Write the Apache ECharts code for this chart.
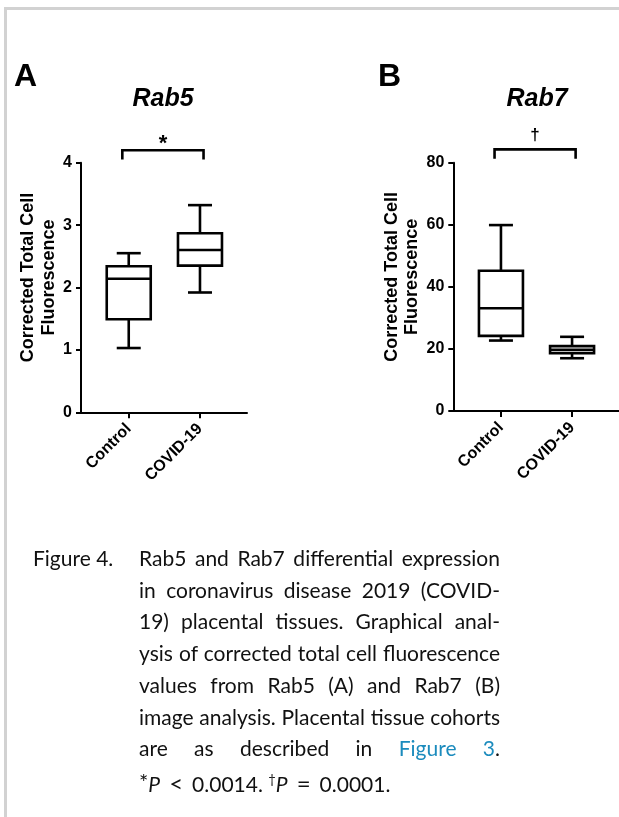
<!DOCTYPE html>
<html>
<head>
<meta charset="utf-8">
<script src="https://cdn.jsdelivr.net/npm/echarts@6/dist/echarts.min.js"></script>
<style>
html,body{margin:0;padding:0;background:#fff;width:619px;height:817px;overflow:hidden;}
#frame{position:absolute;left:4px;top:7px;width:615px;height:810px;border-top:3px solid #d2d2d2;border-left:3px solid #d2d2d2;box-sizing:border-box;}
#chart{position:absolute;left:0;top:0;width:619px;height:520px;}
#caption{position:absolute;left:0;top:0;width:619px;height:817px;font-family:'Lato',sans-serif;font-size:21px;color:#111;}
.lbl{position:absolute;left:33px;line-height:31.7px;}
.ln{position:absolute;left:139px;width:361px;line-height:31.7px;text-align:justify;text-align-last:justify;}
.last{text-align:left;text-align-last:left;}
.link{color:#1b8bbd;}
.op{display:inline-block;margin:0 9px;font-size:24px;line-height:20px;}
</style>
</head>
<body>
<div id="frame"></div>
<div id="chart"></div>
<div id="caption"></div>
<script>
// ---- data ----
const categories = ['Control', 'COVID-19'];
// [min, Q1, median, Q3, max]
const rab5Control = [1.03, 1.49, 2.14, 2.34, 2.55];
const rab5Covid   = [1.92, 2.35, 2.60, 2.87, 3.32];
const rab7Control = [22.7, 24.2, 33.1, 45.2, 59.9];
const rab7Covid   = [17.0, 18.6, 19.7, 20.9, 23.9];
const rab5YTicks = [0, 1, 2, 3, 4];
const rab7YTicks = [0, 20, 40, 60, 80];
const panelTitles = ['Rab5', 'Rab7'];
const panelLetters = ['A', 'B'];
const sigMarks = ['*', '\u2020'];
const yAxisTitle = 'Corrected Total Cell\nFluorescence';
// bracket: [leg bottom value, bracket top value] per panel
const rab5Bracket = [4.05, 4.2];
const rab7Bracket = [81.3, 84.3];
const captionLines = [
  'Rab5 and Rab7 differential expression',
  'in coronavirus disease 2019 (COVID-',
  '19) placental tissues. Graphical anal-',
  'ysis of corrected total cell fluorescence',
  'values from Rab5 (A) and Rab7 (B)',
  'image analysis. Placental tissue cohorts'
];

// ---- caption (HTML text) ----
(function(){
  const cap = document.getElementById('caption');
  const top0 = 542, lh = 31.7;
  let html = '<div class="lbl" style="top:' + top0 + 'px">Figure 4.</div>';
  captionLines.forEach(function(t, i){
    html += '<div class="ln" style="top:' + (top0 + lh * i) + 'px">' + t + '</div>';
  });
  html += '<div class="ln" style="top:' + (top0 + lh * 6) + 'px">are as described in <span class="link">Figure 3</span>.</div>';
  html += '<div class="ln last" style="top:' + (top0 + lh * 7) + 'px"><span style="position:relative;top:-2px;font-size:22px">*</span><i>P</i><span class="op">&lt;</span>0.0014. <sup style="font-size:13px">\u2020</sup><i>P</i><span class="op">=</span>0.0001.</div>';
  cap.innerHTML = html;
})();

// ---- chart ----
const FONT = "'Liberation Sans', Arial, Helvetica, sans-serif";
const chart = echarts.init(document.getElementById('chart'), null, {renderer: 'canvas'});

function boxRender(params, api) {
  const x = api.value(0);
  const lo = api.coord([x, api.value(1)]);
  const q1 = api.coord([x, api.value(2)]);
  const md = api.coord([x, api.value(3)]);
  const q3 = api.coord([x, api.value(4)]);
  const hi = api.coord([x, api.value(5)]);
  const cx = lo[0], hw = 22, cw = 12;
  const st = {stroke: '#000', lineWidth: 2.6, fill: null};
  return {type: 'group', children: [
    {type: 'line', shape: {x1: cx, y1: q3[1], x2: cx, y2: hi[1]}, style: st},
    {type: 'line', shape: {x1: cx, y1: q1[1], x2: cx, y2: lo[1]}, style: st},
    {type: 'line', shape: {x1: cx - cw, y1: hi[1], x2: cx + cw, y2: hi[1]}, style: st},
    {type: 'line', shape: {x1: cx - cw, y1: lo[1], x2: cx + cw, y2: lo[1]}, style: st},
    {type: 'rect', shape: {x: cx - hw, y: q3[1], width: 2 * hw, height: q1[1] - q3[1]}, style: {stroke: '#000', lineWidth: 2.6, fill: '#fff'}},
    {type: 'line', shape: {x1: cx - hw, y1: md[1], x2: cx + hw, y2: md[1]}, style: st}
  ]};
}

function makeBracketRender(mark, fontSize, lift) {
  return function(params, api) {
    const x0 = api.value(0), x1 = api.value(1);
    const leg = api.value(2), topv = api.value(3);
    const a = api.coord([x0, topv]), b = api.coord([x1, topv]);
    const la = api.coord([x0, leg]);
    return {type: 'group', children: [
      {type: 'polyline', shape: {points: [[a[0], la[1]], [a[0], a[1]], [b[0], b[1]], [b[0], la[1]]]},
       style: {stroke: '#000', lineWidth: 2.6, fill: null}},
      {type: 'text', x: (a[0] + b[0]) / 2, y: a[1] - lift,
       style: {text: mark, fontSize: fontSize, fontWeight: 'bold', fontFamily: FONT, fill: '#000', align: 'center', verticalAlign: 'middle'}}
    ]};
  };
}

function xAxisFor(gi) {
  return {
    type: 'value', gridIndex: gi, min: -0.67, max: 1.66,
    axisLine: {show: true, onZero: false, lineStyle: {color: '#000', width: 2}},
    axisTick: {show: true, customValues: [0, 1], length: 6, lineStyle: {color: '#000', width: 2}},
    axisLabel: {show: true, customValues: [0, 1], rotate: 45, margin: 14,
      formatter: function(v){ return categories[Math.round(v)]; },
      color: '#000', fontSize: 16, fontWeight: 'bold', fontFamily: FONT},
    splitLine: {show: false}
  };
}
function yAxisFor(gi, ticks) {
  return {
    type: 'value', gridIndex: gi, min: ticks[0], max: ticks[ticks.length - 1],
    interval: ticks[1] - ticks[0],
    axisLine: {show: true, onZero: false, lineStyle: {color: '#000', width: 2}},
    axisTick: {show: true, length: 5, lineStyle: {color: '#000', width: 2}},
    axisLabel: {color: '#000', fontSize: 16, fontWeight: 'bold', fontFamily: FONT, margin: 9},
    splitLine: {show: false},
    name: yAxisTitle, nameLocation: 'middle', nameGap: 21,
    nameTextStyle: {color: '#000', fontSize: 18, fontWeight: 'bold', fontFamily: FONT, lineHeight: 20.5, padding: [0, 0, 0, 20]}
  };
}

const bx = [-0.09, 1.05];

const option = {
  animation: false,
  backgroundColor: 'transparent',
  grid: [
    {left: 81, top: 162.7, width: 166, height: 249.6},
    {left: 453.3, top: 162.7, width: 166, height: 248.3}
  ],
  xAxis: [xAxisFor(0), xAxisFor(1)],
  yAxis: [yAxisFor(0, rab5YTicks), yAxisFor(1, rab7YTicks)],
  graphic: [
    {type: 'text', x: 14, y: 77, style: {text: panelLetters[0], fontSize: 32, fontWeight: 'bold', fontFamily: FONT, fill: '#000', align: 'left', verticalAlign: 'middle'}},
    {type: 'text', x: 378, y: 77, style: {text: panelLetters[1], fontSize: 32, fontWeight: 'bold', fontFamily: FONT, fill: '#000', align: 'left', verticalAlign: 'middle'}},
    {type: 'text', x: 163, y: 99, style: {text: panelTitles[0], fontSize: 25, fontWeight: 'bold', fontStyle: 'italic', fontFamily: FONT, fill: '#000', align: 'center', verticalAlign: 'middle'}},
    {type: 'text', x: 537, y: 99, style: {text: panelTitles[1], fontSize: 25, fontWeight: 'bold', fontStyle: 'italic', fontFamily: FONT, fill: '#000', align: 'center', verticalAlign: 'middle'}}
  ],
  series: [
    {type: 'custom', xAxisIndex: 0, yAxisIndex: 0, clip: false, renderItem: boxRender,
     encode: {x: 0, y: [1, 2, 3, 4, 5]},
     data: [[0].concat(rab5Control), [1].concat(rab5Covid)]},
    {type: 'custom', xAxisIndex: 1, yAxisIndex: 1, clip: false, renderItem: boxRender,
     encode: {x: 0, y: [1, 2, 3, 4, 5]},
     data: [[0].concat(rab7Control), [1].concat(rab7Covid)]},
    {type: 'custom', xAxisIndex: 0, yAxisIndex: 0, clip: false, renderItem: makeBracketRender(sigMarks[0], 22, 6),
     encode: {x: [0, 1], y: [2, 3]},
     data: [[bx[0], bx[1], rab5Bracket[0], rab5Bracket[1]]]},
    {type: 'custom', xAxisIndex: 1, yAxisIndex: 1, clip: false, renderItem: makeBracketRender(sigMarks[1], 17, 14),
     encode: {x: [0, 1], y: [2, 3]},
     data: [[bx[0], bx[1], rab7Bracket[0], rab7Bracket[1]]]}
  ]
};
chart.setOption(option);
</script>
</body>
</html>
